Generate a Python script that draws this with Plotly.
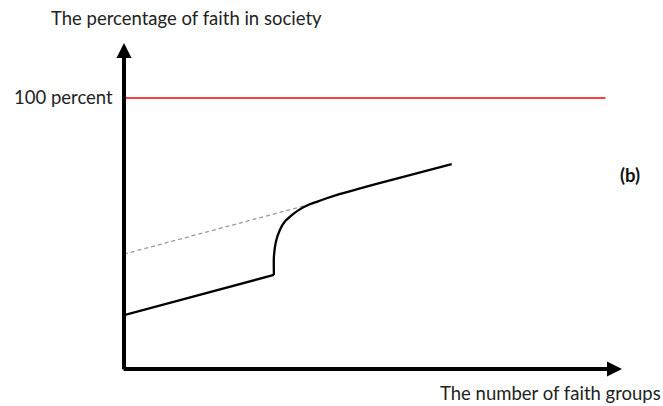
import plotly.graph_objects as go

# ---- data (schematic values: x = number of faith groups, y = percent) ----
lower_x = [0.0, 3.01]
lower_y = [19.9, 34.7]

curve_x = [3.01, 3.01, 3.05, 3.13, 3.23, 3.37, 3.53, 3.73, 3.87, 4.07, 4.34, 4.67, 5.11, 6.58]
curve_y = [34.7, 41.4, 47.0, 51.3, 54.4, 56.8, 58.9, 60.8, 61.7, 63.0, 64.6, 66.3, 68.5, 75.6]

dashed_x = [0.0, 3.80]
dashed_y = [42.4, 61.1]

full_x = [0.0, 9.67]
full_y = [100, 100]

X_MAX = 10.0
Y_MAX = 120.3

FONT = "Lato"
FS = 18.5

fig = go.Figure()

fig.add_trace(go.Scatter(x=full_x, y=full_y, mode="lines",
                         line=dict(color="#ff0000", width=1.3), hoverinfo="skip"))
fig.add_trace(go.Scatter(x=dashed_x, y=dashed_y, mode="lines",
                         line=dict(color="#9a9a9a", width=1.3, dash="4px,3px"), hoverinfo="skip"))
fig.add_trace(go.Scatter(x=lower_x, y=lower_y, mode="lines",
                         line=dict(color="black", width=2.3), hoverinfo="skip"))
fig.add_trace(go.Scatter(x=curve_x, y=curve_y, mode="lines",
                         line=dict(color="black", width=2.3, shape="spline", smoothing=0.6),
                         hoverinfo="skip"))

annotations = [
    # y axis arrow
    dict(x=0, y=Y_MAX, xref="x", yref="y", ax=0, ay=-0.6, axref="x", ayref="y",
         showarrow=True, arrowhead=2, arrowwidth=4, arrowsize=0.75, arrowcolor="black", text=""),
    # x axis arrow
    dict(x=X_MAX, y=0, xref="x", yref="y", ax=-0.04, ay=0, axref="x", ayref="y",
         showarrow=True, arrowhead=2, arrowwidth=4, arrowsize=0.75, arrowcolor="black", text=""),
    dict(text="The percentage of faith in society", x=(186 - 124) / 498, y=(369 - 18) / 326,
         xref="paper", yref="paper", xanchor="center", yanchor="middle", showarrow=False,
         font=dict(family=FONT, size=FS, color="#222")),
    dict(text="100 percent", x=(63.5 - 124) / 498, y=(369 - 97) / 326,
         xref="paper", yref="paper", xanchor="center", yanchor="middle", showarrow=False,
         font=dict(family=FONT, size=FS, color="#222")),
    dict(text="The number of faith groups", x=(550 - 124) / 498, y=(369 - 393) / 326,
         xref="paper", yref="paper", xanchor="center", yanchor="middle", showarrow=False,
         font=dict(family=FONT, size=FS, color="#222")),
    dict(text="<b>(b)</b>", x=(630 - 124) / 498, y=(369 - 175) / 326,
         xref="paper", yref="paper", xanchor="center", yanchor="middle", showarrow=False,
         font=dict(family=FONT, size=FS, color="#111")),
]

fig.update_layout(
    width=663, height=406, autosize=False,
    margin=dict(l=124, r=41, t=43, b=37),
    paper_bgcolor="white", plot_bgcolor="white",
    showlegend=False,
    xaxis=dict(range=[0, X_MAX], visible=False, fixedrange=True),
    yaxis=dict(range=[0, Y_MAX], visible=False, fixedrange=True),
    annotations=annotations,
)

fig.write_html("out.html",
               config={"displayModeBar": False, "staticPlot": True},
               post_script="document.body.style.margin='0';document.body.style.overflow='hidden';")
